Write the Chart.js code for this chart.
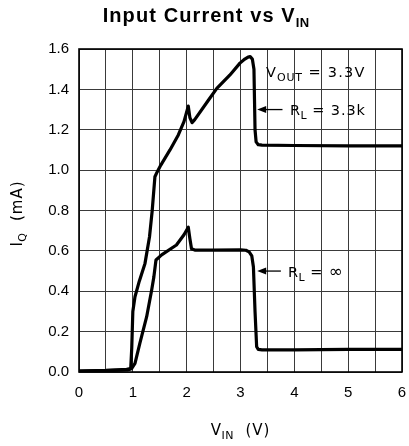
<!DOCTYPE html>
<html>
<head>
<meta charset="utf-8">
<script src="https://cdn.jsdelivr.net/npm/chart.js@4"></script>
<style>
  html, body { margin: 0; padding: 0; background: #fff; }
  #wrap { width: 409px; height: 446px; position: relative; }
</style>
</head>
<body>
<div id="wrap"><canvas id="c" width="409" height="446"></canvas></div>
<script>
// ---- data ----
const xTicks = [0, 1, 2, 3, 4, 5, 6];
const yTicks = [0.0, 0.2, 0.4, 0.6, 0.8, 1.0, 1.2, 1.4, 1.6];

// R_L = 3.3k curve
const rl33kV = [0, 0.5, 0.9, 0.96, 0.98, 1.0, 1.04, 1.12, 1.226, 1.31, 1.36, 1.41, 1.45, 1.52, 1.69, 1.845, 1.95, 2.03, 2.06, 2.1, 2.15, 2.4, 2.56, 2.8, 2.99, 3.08, 3.14, 3.18, 3.22, 3.25, 3.26, 3.27, 3.29, 3.33, 3.4, 4.0, 5.0, 6.0];
const rl33kI = [0.005, 0.007, 0.01, 0.015, 0.12, 0.3, 0.373, 0.45, 0.538, 0.67, 0.8, 0.967, 0.99, 1.025, 1.1, 1.174, 1.24, 1.317, 1.26, 1.235, 1.25, 1.345, 1.405, 1.47, 1.53, 1.55, 1.56, 1.562, 1.55, 1.5, 1.35, 1.2, 1.14, 1.126, 1.124, 1.122, 1.12, 1.12];

// R_L = infinity curve
const rlInfV = [0, 0.5, 0.885, 0.98, 1.04, 1.13, 1.257, 1.35, 1.39, 1.43, 1.535, 1.81, 1.95, 2.03, 2.06, 2.09, 2.15, 2.5, 3.0, 3.1, 3.16, 3.21, 3.24, 3.27, 3.3, 3.33, 3.4, 4.0, 5.0, 6.0];
const rlInfI = [0.005, 0.008, 0.013, 0.018, 0.043, 0.142, 0.274, 0.406, 0.47, 0.555, 0.58, 0.629, 0.68, 0.717, 0.66, 0.61, 0.604, 0.604, 0.605, 0.603, 0.595, 0.575, 0.52, 0.3, 0.125, 0.112, 0.11, 0.11, 0.112, 0.112];

const toPts = (xs, ys) => xs.map((x, i) => ({ x: x, y: ys[i] }));

const TICK_FONT = { family: 'Liberation Sans, Arial, sans-serif', size: 15 };
const ANN_FONT = '"DejaVu Sans", sans-serif';

function drawSubText(ctx, parts, x, y, align) {
  let total = 0;
  parts.forEach(p => {
    ctx.font = (p.bold ? 'bold ' : '') + p.size + 'px ' + (p.family || ANN_FONT);
    ctx.letterSpacing = (p.ls || 0) + 'px';
    p.w = ctx.measureText(p.t).width;
    total += p.w;
  });
  let cx = align === 'center' ? x - total / 2 : x;
  parts.forEach(p => {
    ctx.font = (p.bold ? 'bold ' : '') + p.size + 'px ' + (p.family || ANN_FONT);
    ctx.letterSpacing = (p.ls || 0) + 'px';
    ctx.fillText(p.t, cx, y + (p.dy || 0));
    cx += p.w;
  });
  ctx.letterSpacing = '0px';
}

const overlay = {
  id: 'overlay',
  afterDraw(chart) {
    const ctx = chart.ctx;
    const a = chart.chartArea;
    const xs = chart.scales.x, ys = chart.scales.y;
    ctx.save();
    ctx.strokeStyle = '#000';
    ctx.lineWidth = 1.6;
    ctx.strokeRect(a.left, a.top, a.right - a.left, a.bottom - a.top);

    ctx.fillStyle = '#000';
    ctx.textBaseline = 'alphabetic';
    ctx.textAlign = 'left';

    const TF = 'Liberation Sans, Arial, sans-serif';
    drawSubText(ctx, [
      { t: 'Input Current vs V', size: 20, bold: true, family: TF, ls: 1.1 },
      { t: 'IN', size: 13, bold: true, family: TF, dy: 5, ls: 0.3 }
    ], 206, 22, 'center');

    drawSubText(ctx, [
      { t: 'V', size: 15, ls: 0.5 },
      { t: 'IN', size: 11, dy: 4, ls: 0.5 },
      { t: '  (V)', size: 15, ls: 1 }
    ], (a.left + a.right) / 2, 435, 'center');

    ctx.save();
    ctx.translate(22, (a.top + a.bottom) / 2 + 3);
    ctx.rotate(-Math.PI / 2);
    drawSubText(ctx, [
      { t: 'I', size: 15, ls: 0.5 },
      { t: 'Q', size: 11, dy: 4, ls: 0.5 },
      { t: '  (mA)', size: 15, ls: 1 }
    ], 0, 0, 'center');
    ctx.restore();

    drawSubText(ctx, [
      { t: 'V', size: 14.5, ls: 1 },
      { t: 'OUT', size: 11, dy: 4, ls: 0.8 },
      { t: ' = 3.3V', size: 14.5, ls: 1.2 }
    ], 266, 77, 'left');

    function arrow(x1, x2, y) {
      ctx.beginPath();
      ctx.lineWidth = 1.3;
      ctx.moveTo(x1 + 6, y);
      ctx.lineTo(x2, y);
      ctx.stroke();
      ctx.beginPath();
      ctx.moveTo(x1, y);
      ctx.lineTo(x1 + 9, y - 3.5);
      ctx.lineTo(x1 + 9, y + 3.5);
      ctx.closePath();
      ctx.fill();
    }
    const yA = ys.getPixelForValue(1.3);
    arrow(xs.getPixelForValue(3.31), xs.getPixelForValue(3.78), yA);
    drawSubText(ctx, [
      { t: 'R', size: 14.5, ls: 0.5 },
      { t: 'L', size: 11, dy: 4, ls: 0 },
      { t: ' = 3.3k', size: 14.5, ls: 0.9 }
    ], 290, yA + 5.5, 'left');

    const yB = ys.getPixelForValue(0.5);
    arrow(xs.getPixelForValue(3.31), xs.getPixelForValue(3.75), yB);
    drawSubText(ctx, [
      { t: 'R', size: 14.5, ls: 0.5 },
      { t: 'L', size: 11, dy: 4, ls: 0 },
      { t: ' = ', size: 14.5, ls: 0.9 },
      { t: '∞', size: 17, ls: 0 }
    ], 288, yB + 5.5, 'left');

    ctx.restore();
  }
};

new Chart(document.getElementById('c'), {
  type: 'scatter',
  data: {
    datasets: [
      { label: 'RL = 3.3k', data: toPts(rl33kV, rl33kI), showLine: true, borderColor: '#000', borderWidth: 3.2, pointRadius: 0, tension: 0, borderJoinStyle: 'round', borderCapStyle: 'round' },
      { label: 'RL = inf', data: toPts(rlInfV, rlInfI), showLine: true, borderColor: '#000', borderWidth: 3.2, pointRadius: 0, tension: 0, borderJoinStyle: 'round', borderCapStyle: 'round' }
    ]
  },
  options: {
    responsive: false,
    animation: false,
    devicePixelRatio: 1,
    layout: { padding: { left: 0, right: 7, top: 49, bottom: 0 } },
    plugins: { legend: { display: false }, tooltip: { enabled: false }, title: { display: false } },
    scales: {
      x: {
        type: 'linear', min: 0, max: 6,
        afterFit(s) { s.height = 74; s.paddingLeft = 0; s.paddingRight = 0; },
        afterBuildTicks(s) {
          const t = [];
          for (let i = 0; i <= 12; i++) t.push({ value: i * 0.5 });
          s.ticks = t;
        },
        ticks: {
          color: '#000', font: TICK_FONT, padding: 12, maxRotation: 0, autoSkip: false,
          callback: (v) => xTicks.includes(v) ? String(v) : ''
        },
        grid: { color: '#3a3a3a', lineWidth: 1, drawTicks: false },
        border: { display: false }
      },
      y: {
        type: 'linear', min: 0, max: 1.6,
        afterFit(s) { s.width = 79; s.paddingTop = 0; s.paddingBottom = 0; },
        afterBuildTicks(s) { s.ticks = yTicks.map(v => ({ value: v })); },
        ticks: {
          color: '#000', font: TICK_FONT, padding: 10,
          callback: (v) => Number(v).toFixed(1)
        },
        grid: { color: '#3a3a3a', lineWidth: 1, drawTicks: false },
        border: { display: false }
      }
    }
  },
  plugins: [overlay]
});
</script>
</body>
</html>
